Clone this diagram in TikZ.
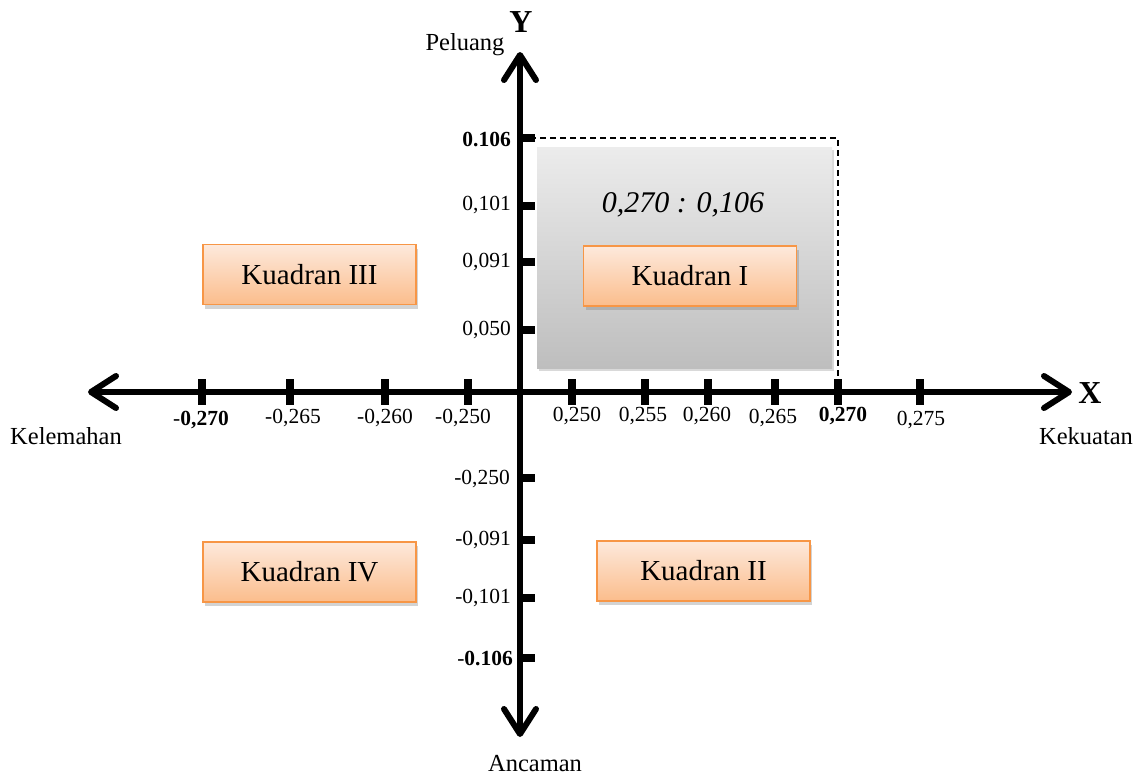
\documentclass[tikz,border=0pt]{standalone}
\usepackage{fontspec}
\setmainfont{Liberation Serif}
\usetikzlibrary{arrows.meta,shadows}
\definecolor{orangeB}{HTML}{F79646}
\definecolor{orangeT}{HTML}{FDE9DC}
\definecolor{orangeBot}{HTML}{FBBD8C}
\definecolor{grayT}{HTML}{ECECEC}
\definecolor{grayBot}{HTML}{BEBEBE}
\begin{document}
\begin{tikzpicture}[x=1pt,y=-1pt,
  axis/.style={line width=6pt,{Straight Barb[length=25pt,width=32pt,round]}-{Straight Barb[length=25pt,width=32pt,round]}},
  tickmark/.style={line width=8pt},
  tlab/.style={font=\fontsize{21.5}{23}\selectfont,inner sep=0pt},
  wlab/.style={font=\fontsize{24.5}{27}\selectfont,inner sep=0pt},
  axname/.style={font=\bfseries\fontsize{32}{34}\selectfont,inner sep=0pt},
  quad/.style={draw=orangeB,line width=1.8pt,top color=orangeT,bottom color=orangeBot,
    minimum width=213pt,minimum height=60pt,inner sep=0pt,font=\fontsize{29}{32}\selectfont,
    drop shadow={shadow xshift=2pt,shadow yshift=-4pt,opacity=0.35}},
  graybox/.style={top color=grayT,bottom color=grayBot,
    drop shadow={shadow xshift=2pt,shadow yshift=-3pt,opacity=0.3}}
]
\useasboundingbox (0,0) rectangle (1137,777);
% coordinates
\coordinate (xl) at (88,392);
\coordinate (xr) at (1072,392);
\coordinate (yt) at (520,52);
\coordinate (yb) at (520,737);
\coordinate (dtl) at (520,138);
\coordinate (dtr) at (838,138);
\coordinate (dbr) at (838,392);
% gray box
\path[graybox] (537,147) rectangle (832,368);
\node[font=\itshape\fontsize{30}{32}\selectfont,inner sep=0pt] (ratio) at (683,205) {0,270 : 0,106};
% dashed frame
\draw[line width=1.5pt,dash pattern=on 6pt off 4pt] (dtl) -- (dtr) -- (dbr);
% axes
\draw[axis] (xl) -- (xr);
\draw[axis] (yb) -- (yt);
% x ticks
\foreach \x in {202,290,385,468,572,645,708,775,838,920}
  \draw[tickmark] (\x,379) -- (\x,405);
% y ticks
\foreach \y in {138,206,262,330,478,540,598,658}
  \draw[tickmark] (517,\y) -- (535,\y);
% x labels
\node[tlab] (xm270) at (201,420) {-\textbf{0,270}};
\node[tlab] (xm265) at (293,418) {-0,265};
\node[tlab] (xm260) at (385,418) {-0,260};
\node[tlab] (xm250) at (463,418) {-0,250};
\node[tlab] (x250) at (577,416) {0,250};
\node[tlab] (x255) at (643,416) {0,255};
\node[tlab] (x260) at (707,416) {0,260};
\node[tlab] (x265) at (773,418) {0,265};
\node[tlab] (x270) at (843,416) {\textbf{0,270}};
\node[tlab] (x275) at (921,420) {0,275};
% y labels
\node[tlab,anchor=east] (y106) at (511,139) {\textbf{0.106}};
\node[tlab,anchor=east] (y101) at (511,205) {0,101};
\node[tlab,anchor=east] (y091) at (511,262) {0,091};
\node[tlab,anchor=east] (y050) at (511,330) {0,050};
\node[tlab,anchor=east] (ym250) at (510,479) {-0,250};
\node[tlab,anchor=east] (ym091) at (511,540) {-0,091};
\node[tlab,anchor=east] (ym101) at (511,598) {-0,101};
\node[tlab,anchor=east] (ym106) at (513,658) {-\textbf{0.106}};
% axis names
\node[axname] (Y) at (521,22) {Y};
\node[axname] (X) at (1090,393) {X};
\node[wlab] (peluang) at (465,45) {Peluang};
\node[wlab] (kekuatan) at (1086,436) {Kekuatan};
\node[wlab] (kelemahan) at (66,436) {Kelemahan};
\node[wlab,anchor=base] (ancaman) at (535,771) {Ancaman};
% quadrants
\node[quad] (q1) at (690,276) {Kuadran I};
\node[quad] (q3) at (309.5,274.5) {Kuadran III};
\node[quad] (q4) at (309.5,572) {Kuadran IV};
\node[quad] (q2) at (703.5,571) {Kuadran II};
\end{tikzpicture}
\end{document}
